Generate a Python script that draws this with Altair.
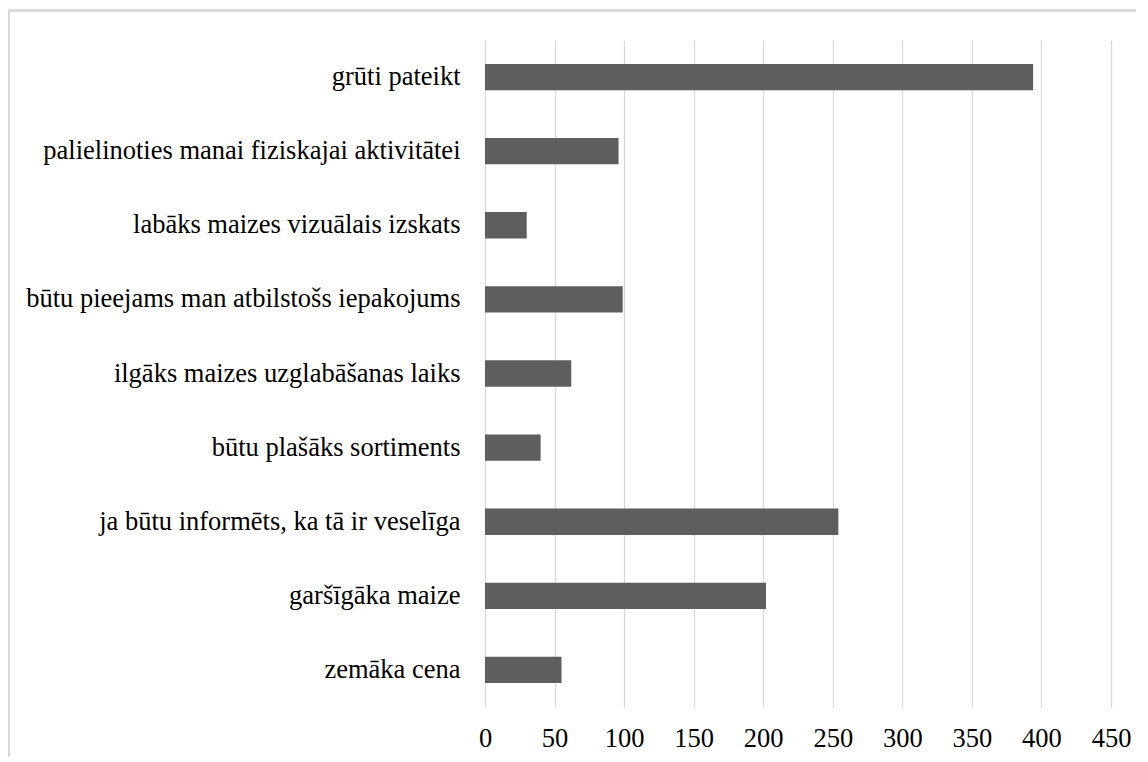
import altair as alt
import pandas as pd

categories = [
    "grūti pateikt",
    "palielinoties manai fiziskajai aktivitātei",
    "labāks maizes vizuālais izskats",
    "būtu pieejams man atbilstošs iepakojums",
    "ilgāks maizes uzglabāšanas laiks",
    "būtu plašāks sortiments",
    "ja būtu informēts, ka tā ir veselīga",
    "garšīgāka maize",
    "zemāka cena",
]
values = [394, 96, 30, 99, 62, 40, 254, 202, 55]
x_ticks = [0, 50, 100, 150, 200, 250, 300, 350, 400, 450]

df = pd.DataFrame({"category": categories, "value": values})

W, H = 626, 667
PL, PT, PR, PB = 477, 32, 25, 50
FONT = "Liberation Serif"

bars = alt.Chart(df).mark_bar(color="#5e5e5e").encode(
    x=alt.X(
        "value:Q",
        scale=alt.Scale(domain=[0, 450], nice=False),
        axis=alt.Axis(
            values=x_ticks,
            title=None,
            grid=True,
            gridColor="#d9d9d9",
            gridWidth=1.3,
            domain=False,
            ticks=False,
            labelFont=FONT,
            labelFontSize=26.5,
            labelColor="#000000",
            labelPadding=18,
            labelFlush=False,
        ),
    ),
    y=alt.Y(
        "category:N",
        sort=categories,
        scale=alt.Scale(paddingInner=0.645, paddingOuter=0.3225),
        axis=alt.Axis(
            title=None,
            domain=False,
            ticks=False,
            grid=False,
            labelFont=FONT,
            labelFontSize=26.5,
            labelColor="#000000",
            labelPadding=25,
            labelLimit=0,
        ),
    ),
)

frame_top = alt.Chart(df).mark_rule(color="#d9d9d9", strokeWidth=1.5).encode(
    x=alt.value(-PL), x2=alt.value(W + PR), y=alt.value(-PT + 2.5)
)
frame_left = alt.Chart(df).mark_rule(color="#d9d9d9", strokeWidth=1.5).encode(
    x=alt.value(-PL + 0.8), y=alt.value(-PT + 2.5), y2=alt.value(H + PB)
)

chart = (
    alt.layer(bars, frame_top, frame_left)
    .properties(
        width=W,
        height=H,
        autosize=alt.AutoSizeParams(type="none"),
        padding={"left": PL, "top": PT, "right": PR, "bottom": PB},
        background="white",
    )
    .configure_view(stroke=None, strokeWidth=0)
)

chart.save("out.html", embed_options={"renderer": "svg", "actions": False})
